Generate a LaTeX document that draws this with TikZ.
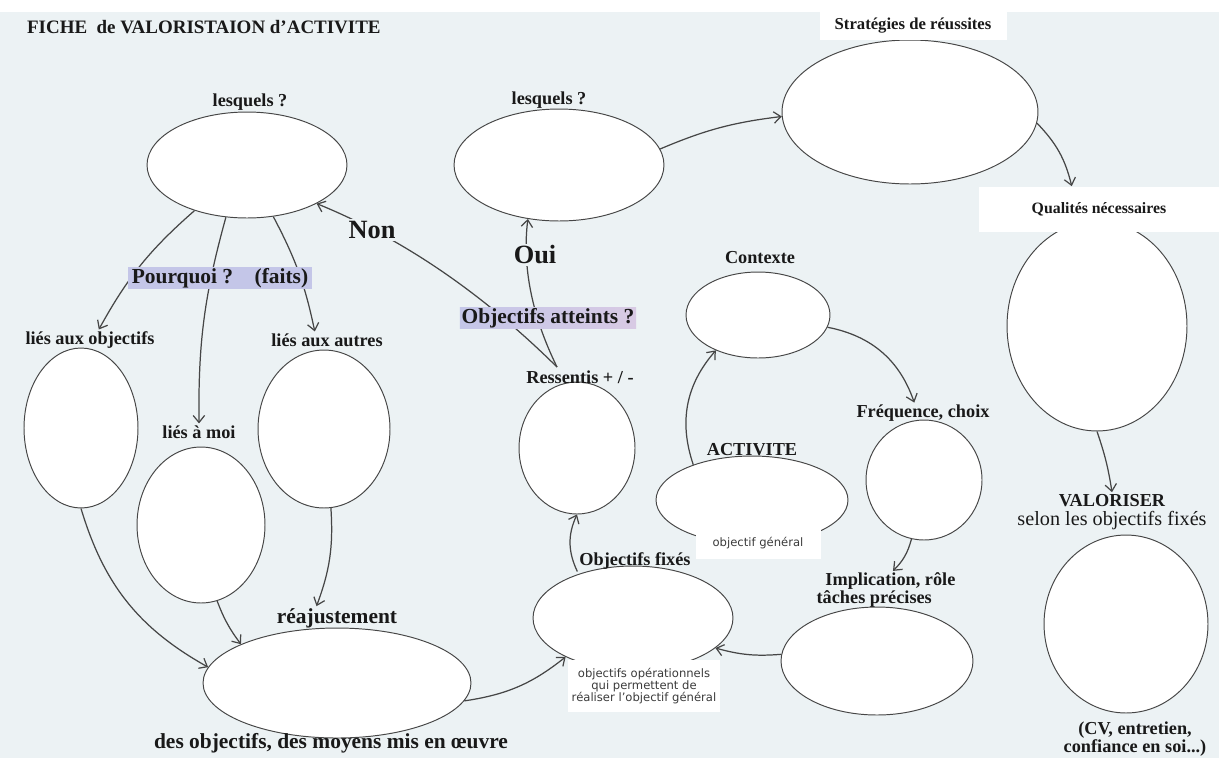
\documentclass[tikz,border=0pt]{standalone}
\usepackage{fontspec}
\setmainfont{Liberation Serif}
\newfontfamily\petitsans{DejaVu Sans}
\usetikzlibrary{shapes.geometric,arrows.meta}
\definecolor{fond}{RGB}{236,242,244}
\definecolor{trait}{RGB}{70,70,70}
\definecolor{encre}{RGB}{25,25,25}
\definecolor{lavande}{RGB}{196,198,232}
\definecolor{lavrose}{RGB}{216,202,228}

\begin{document}
\begin{tikzpicture}[x=0.02cm,y=-0.02cm,
	bulle/.style={ellipse,draw=trait,fill=white,line width=0.55pt,inner sep=0pt},
	etiq/.style={text=encre,inner sep=1pt,font=\bfseries\fontsize{10.4}{10}\selectfont},
	grand/.style={etiq,font=\bfseries\fontsize{12.2}{12}\selectfont},
	cadre/.style={grand,fill=lavande,inner ysep=0.5pt,minimum height=0.41cm},
	blanc/.style={fill=white,inner sep=0pt},
	petit/.style={blanc,text=encre!85,align=center,font=\petitsans\fontsize{6.6}{6.9}\selectfont},
	fleche/.style={draw=trait,line width=0.7pt,-{Straight Barb[length=4pt,width=6.5pt]}}]
		\fill[fond] (0,0) rectangle (1219,758);
		\fill[white] (0,0) rectangle (1219,12);
		\useasboundingbox (0,0) rectangle (1219,758);
		\node[etiq,anchor=west,font=\bfseries\fontsize{10.8}{11}\selectfont] (titre) at (25,27) {FICHE\ \ de VALORISTAION d’ACTIVITE};
		% bulles
		\node[bulle,minimum width=4cm,minimum height=2.12cm] (lesqA) at (247,165) {};
		\node[bulle,minimum width=4.2cm,minimum height=2.24cm] (lesqB) at (559,165) {};
		\node[bulle,minimum width=5.12cm,minimum height=2.88cm] (strat) at (910,112) {};
		\node[bulle,minimum width=3.6cm,minimum height=4.2cm] (qual) at (1097,326) {};
		\node[bulle,minimum width=3.28cm,minimum height=3.56cm] (valo) at (1126,624) {};
		\node[bulle,minimum width=2.28cm,minimum height=3.2cm] (objs) at (81,428) {};
		\node[bulle,minimum width=2.56cm,minimum height=3.12cm] (moi) at (201,525) {};
		\node[bulle,minimum width=2.64cm,minimum height=3.16cm] (autres) at (324,429) {};
		\node[bulle,minimum width=5.36cm,minimum height=2.2cm] (reaj) at (337,683) {};
		\node[bulle,minimum width=2.32cm,minimum height=2.64cm] (ress) at (577,448) {};
		\node[bulle,minimum width=2.88cm,minimum height=1.72cm] (ctx) at (758,315) {};
		\node[bulle,minimum width=3.84cm,minimum height=1.76cm] (act) at (752,500) {};
		\node[bulle,minimum width=2.32cm,minimum height=2.4cm] (freq) at (924,480) {};
		\node[bulle,minimum width=4cm,minimum height=2.08cm] (fix) at (633,618) {};
		\node[bulle,minimum width=3.84cm,minimum height=2.16cm] (impl) at (877,661) {};
		% textes
		\node[etiq] (tLesqA) at (250,102) {lesquels ?};
		\node[etiq] (tLesqB) at (549,100) {lesquels ?};
		\node[etiq,blanc,minimum width=3.74cm,minimum height=0.56cm,font=\bfseries\fontsize{9.5}{10}\selectfont] (tStrat) at (913,26) {Stratégies de réussites};
		\node[etiq,blanc,minimum width=4.82cm,minimum height=0.9cm,font=\bfseries\fontsize{9}{10}\selectfont] (tQual) at (1099,209) {Qualités nécessaires};
		\node[etiq] (tObjs) at (90,340) {liés aux objectifs};
		\node[etiq] (tMoi) at (199,432) {liés à moi};
		\node[etiq] (tAutres) at (327,340) {liés aux autres};
		\node[grand] (tReaj) at (337,618) {réajustement};
		\node[grand] (tBas) at (331,743) {des objectifs, des moyens mis en œuvre};
		\node[etiq] (tRess) at (580,377) {Ressentis + / -};
		\coordinate (fourche) at (557,367);
		\node[etiq] (tCtx) at (760,258) {Contexte};
		\node[etiq] (tAct) at (752,450) {ACTIVITE};
		\node[petit,minimum width=2.5cm,minimum height=0.64cm] (tGen) at (758,543) {objectif général};
		\node[etiq] (tFreq) at (923,413) {Fréquence, choix};
		\node[etiq] (tFix) at (635,561) {Objectifs fixés};
		\node[petit,minimum width=3.04cm,minimum height=1.04cm] (tOper) at (644,686) {objectifs opérationnels\\qui permettent de\\réaliser l’objectif général};
		\node[etiq,align=left,font=\bfseries\fontsize{10.4}{9.8}\selectfont] (tImpl) at (886,590) {\hspace{5pt}Implication, rôle\\tâches précises};
		\node[etiq,align=center,font=\bfseries\fontsize{10.4}{10.8}\selectfont] (tVal) at (1112,512) {VALORISER\\{\mdseries\fontsize{11.5}{10.8}\selectfont selon les objectifs fixés}};
		\node[etiq,align=center,font=\bfseries\fontsize{10.4}{10.2}\selectfont] (tCV) at (1135,739) {(CV, entretien,\\confiance en soi...)};
		% fleches
		\draw[fleche] (lesqA.221) to[bend right=10] (tObjs.50);
		\draw[fleche] (lesqA.248) to[bend right=8] (tMoi.north);
		\draw[fleche] (lesqA.297) to[bend left=8] (tAutres.145);
		\draw[fleche] (fourche) .. controls (480,291) and (401,238) .. (lesqA.331);
		\draw[fleche] (fourche) .. controls (532,316) and (522,267) .. (lesqB.240);
		\draw[fleche] (lesqB.9) to[bend left=8] (strat.182);
		\draw[fleche] (strat.355) to[bend left=15] (tQual.140);
		\draw[fleche] (qual.south) to[bend left=5] (tVal.north);
		\draw[fleche] (ctx.350) to[bend left=30] (tFreq.130);
		\draw[fleche] (act.149) to[bend left=30] (ctx.220);
		\draw[fleche] (freq.258) to[bend left=15] (tImpl.70);
		\draw[fleche] (impl.176) to[bend left=10] (fix.340);
		\draw[fleche] (tFix.south west) to[bend left=25] (ress.south);
		\draw[fleche] (reaj.352) to[bend right=15] (fix.210);
		\draw[fleche] (objs.south) to[bend right=22] (reaj.173);
		\draw[fleche] (moi.282) to[bend right=8] (reaj.158);
		\draw[fleche] (autres.275) to[bend left=12] (tReaj.150);
		% cadres par-dessus les traits
		\node[cadre,minimum width=3.68cm] (tPourq) at (220,278) {Pourquoi ?\hspace{1em}(faits)};
		\node[cadre,left color=lavande,right color=lavrose,minimum width=3.48cm] (tAtt) at (548,318) {Objectifs atteints ?};
		\node[etiq,fill=fond,font=\bfseries\fontsize{15}{15}\selectfont] (tNon) at (372,230) {Non};
		\node[etiq,fill=fond,font=\bfseries\fontsize{15}{15}\selectfont] (tOui) at (535,255) {Oui};
	\end{tikzpicture}
\end{document}
